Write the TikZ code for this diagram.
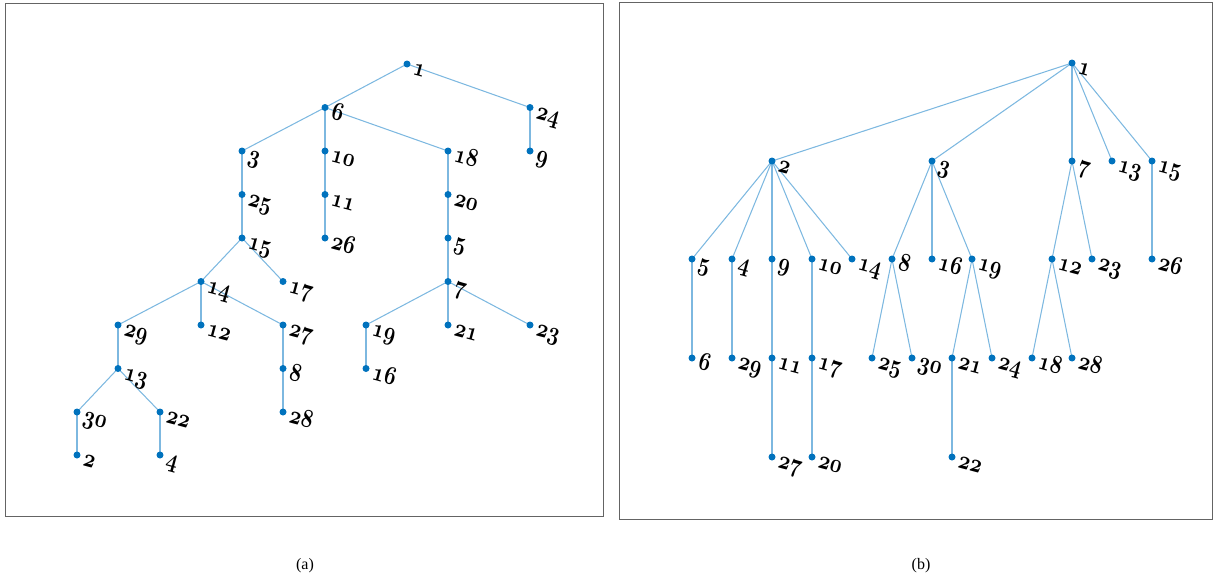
\documentclass[tikz,border=0pt]{standalone}
\usepackage{fontspec}
\usetikzlibrary{backgrounds}
\newfontfamily\capfont{Liberation Serif}
\font\lbf=cmmib10 at 22pt
\definecolor{dotblue}{RGB}{0,114,189}
\definecolor{edgeblue}{RGB}{125,184,224}
\definecolor{framegray}{RGB}{100,100,100}
\tikzset{
  dot/.style={circle,fill=dotblue,inner sep=0pt,minimum size=7pt},
  lab/.style={anchor=base west,rotate=-15,inner sep=0pt,font=\lbf},
  tedge/.style={draw=edgeblue,line width=1.05pt},
  boxframe/.style={draw=framegray,line width=0.8pt},
  captext/.style={font=\capfont\fontsize{16}{16}\selectfont}
}
\newcommand\tn[4]{%
  \node[dot] (#1) at (#2,#3) {};
  \node[lab] (#1t) at ([xshift=5pt,yshift=-10.5pt]#1.center) {\scalebox{0.93}[1.18]{#4}};}
\begin{document}
\begin{tikzpicture}[x=1pt,y=-1pt]
\useasboundingbox (0,0) rectangle (1214,581);
% frames
\node[boxframe,minimum width=598pt,minimum height=513pt,inner sep=0pt,anchor=north west] (fa) at (5,3) {};
\node[boxframe,minimum width=593pt,minimum height=517pt,inner sep=0pt,anchor=north west] (fb) at (619,2) {};
\node[captext] (capa) at (305,566) {(a)};
\node[captext] (capb) at (921,566) {(b)};
% ---------- tree (a)
\tn{a1}{407}{64}{1}
\tn{a6}{325}{107.5}{6}
\tn{a24}{530}{107.5}{24}
\tn{a3}{242}{151}{3}
\tn{a10}{325}{151}{10}
\tn{a18}{448}{151}{18}
\tn{a9}{530}{151}{9}
\tn{a25}{242}{194.5}{25}
\tn{a11}{325}{194.5}{11}
\tn{a20}{448}{194.5}{20}
\tn{a15}{242}{238}{15}
\tn{a26}{325}{238}{26}
\tn{a5}{448}{238}{5}
\tn{a14}{201}{281.5}{14}
\tn{a17}{283}{281.5}{17}
\tn{a7}{448}{281.5}{7}
\tn{a29}{118}{325}{29}
\tn{a12}{201}{325}{12}
\tn{a27}{283}{325}{27}
\tn{a19}{366}{325}{19}
\tn{a21}{448}{325}{21}
\tn{a23}{530}{325}{23}
\tn{a13}{118}{368.5}{13}
\tn{a8}{283}{368.5}{8}
\tn{a16}{366}{368.5}{16}
\tn{a30}{77}{412}{30}
\tn{a22}{160}{412}{22}
\tn{a28}{283}{412}{28}
\tn{a2}{77}{455}{2}
\tn{a4}{160}{455}{4}
% ---------- tree (b)
\tn{b1}{1072}{63}{1}
\tn{b2}{772}{161}{2}
\tn{b3}{932}{161}{3}
\tn{b7}{1072}{161}{7}
\tn{b13}{1112}{161}{13}
\tn{b15}{1152}{161}{15}
\tn{b5}{692}{259}{5}
\tn{b4}{732}{259}{4}
\tn{b9}{772}{259}{9}
\tn{b10}{812}{259}{10}
\tn{b14}{852}{259}{14}
\tn{b8}{892}{259}{8}
\tn{b16}{932}{259}{16}
\tn{b19}{972}{259}{19}
\tn{b12}{1052}{259}{12}
\tn{b23}{1092}{259}{23}
\tn{b26}{1152}{259}{26}
\tn{b6}{692}{358}{6}
\tn{b29}{732}{358}{29}
\tn{b11}{772}{358}{11}
\tn{b17}{812}{358}{17}
\tn{b25}{872}{358}{25}
\tn{b30}{912}{358}{30}
\tn{b21}{952}{358}{21}
\tn{b24}{992}{358}{24}
\tn{b18}{1032}{358}{18}
\tn{b28}{1072}{358}{28}
\tn{b27}{772}{457}{27}
\tn{b20}{812}{457}{20}
\tn{b22}{952}{457}{22}
\begin{scope}[on background layer]
\foreach \p/\c in {1/6,1/24,6/3,6/10,6/18,24/9,3/25,10/11,18/20,25/15,11/26,20/5,15/14,15/17,5/7,14/29,14/12,14/27,7/19,7/21,7/23,29/13,27/8,19/16,13/30,13/22,8/28,30/2,22/4}
  \draw[tedge] (a\p.center) -- (a\c.center);
\foreach \p/\c in {1/2,1/3,1/7,1/13,1/15,2/5,2/4,2/9,2/10,2/14,3/8,3/16,3/19,7/12,7/23,15/26,5/6,4/29,9/11,10/17,8/25,8/30,19/21,19/24,12/18,12/28,11/27,17/20,21/22}
  \draw[tedge] (b\p.center) -- (b\c.center);
\end{scope}
\end{tikzpicture}
\end{document}
